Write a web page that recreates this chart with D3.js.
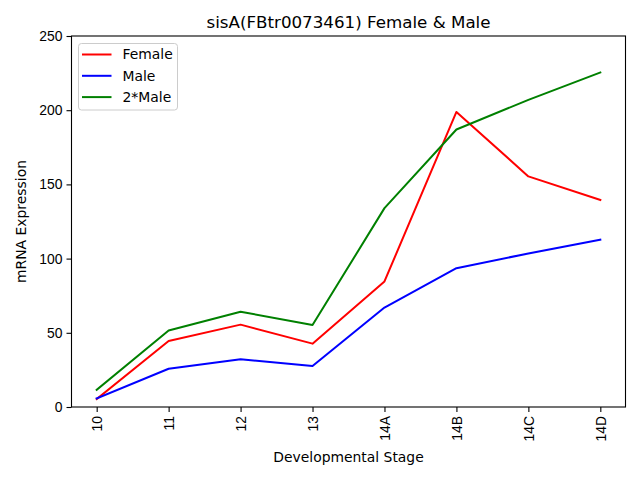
<!DOCTYPE html>
<html>
<head>
<meta charset="utf-8">
<script src="https://cdn.jsdelivr.net/npm/d3@7"></script>
<style>
  body { margin: 0; background: #fff; }
  svg { font-family: "DejaVu Sans", sans-serif; }
</style>
</head>
<body>
<div id="chart"></div>
<script>
// Chart data
const stages = ["10", "11", "12", "13", "14A", "14B", "14C", "14D"];
const female = [5.4, 44.5, 55.5, 42.7, 84.6, 198.8, 155.4, 139.5];
const male = [5.8, 25.8, 32.1, 27.6, 67.0, 93.5, 103.5, 112.7];
const male2 = [11.6, 51.6, 64.2, 55.2, 134.0, 187.0, 207.0, 225.4];
const yTicks = [0, 50, 100, 150, 200, 250];

const series = [
    { name: "Female", values: female, color: "#ff0000" },
    { name: "Male", values: male, color: "#0000ff" },
    { name: "2*Male", values: male2, color: "#008000" }
];

const width = 640, height = 480;
const margin = { left: 71.5, right: 14.5, top: 36, bottom: 73 };
const plotW = width - margin.left - margin.right;
const plotH = height - margin.top - margin.bottom;

const svg = d3.select("#chart").append("svg")
    .attr("width", width)
    .attr("height", height);

// matplotlib-style 5% margin on the category axis
const n = stages.length - 1;
const x = d3.scaleLinear()
    .domain([-0.05 * n, n + 0.05 * n])
    .range([margin.left, margin.left + plotW]);
const y = d3.scaleLinear()
    .domain([0, 250])
    .range([margin.top + plotH, margin.top]);

// Lines
const line = d3.line()
    .x((d, i) => x(i))
    .y(d => y(d));

svg.append("g").selectAll("path")
    .data(series)
    .enter()
    .append("path")
    .attr("d", d => line(d.values))
    .attr("fill", "none")
    .attr("stroke", d => d.color)
    .attr("stroke-width", 2)
    .attr("stroke-linejoin", "round")
    .attr("stroke-linecap", "square");

// Axes
const xAxis = svg.append("g")
    .attr("transform", `translate(0,${margin.top + plotH})`)
    .call(d3.axisBottom(x)
        .tickValues(d3.range(stages.length))
        .tickFormat(i => stages[i])
        .tickSize(5)
        .tickPadding(4));
xAxis.selectAll("text")
    .attr("transform", "rotate(-90)")
    .attr("text-anchor", "end")
    .attr("x", -9)
    .attr("y", 0)
    .attr("dy", "0.35em")
    .style("font-size", "13.9px")
    .style("fill", "#000");

const yAxis = svg.append("g")
    .attr("transform", `translate(${margin.left},0)`)
    .call(d3.axisLeft(y)
        .tickValues(yTicks)
        .tickSize(5)
        .tickPadding(4));
yAxis.selectAll("text")
    .style("font-size", "13.9px")
    .style("fill", "#000");

[xAxis, yAxis].forEach(a => {
    a.select(".domain").remove();
    a.selectAll(".tick line").attr("stroke", "#000").attr("stroke-width", 1.1);
});

// Frame
svg.append("rect")
    .attr("x", margin.left)
    .attr("y", margin.top)
    .attr("width", plotW)
    .attr("height", plotH)
    .attr("fill", "none")
    .attr("stroke", "#000")
    .attr("stroke-width", 1.1);

// Title and labels
svg.append("text")
    .attr("x", margin.left + plotW / 2)
    .attr("y", 28)
    .attr("text-anchor", "middle")
    .style("font-size", "16.7px")
    .text("sisA(FBtr0073461) Female & Male");

svg.append("text")
    .attr("x", margin.left + plotW / 2)
    .attr("y", 462)
    .attr("text-anchor", "middle")
    .style("font-size", "13.9px")
    .text("Developmental Stage");

svg.append("text")
    .attr("transform", `translate(26,${margin.top + plotH / 2}) rotate(-90)`)
    .attr("text-anchor", "middle")
    .style("font-size", "13.9px")
    .text("mRNA Expression");

// Legend
const legend = svg.append("g").attr("transform", "translate(78.5,43.5)");
legend.append("rect")
    .attr("width", 99)
    .attr("height", 66.5)
    .attr("rx", 3)
    .attr("fill", "#fff")
    .attr("fill-opacity", 0.8)
    .attr("stroke", "#cccccc")
    .attr("stroke-width", 1);

const items = legend.selectAll(".item")
    .data(series)
    .enter()
    .append("g")
    .attr("transform", (d, i) => `translate(0,${11 + i * 21.3})`);
items.append("line")
    .attr("x1", 3.5).attr("x2", 33)
    .attr("stroke", d => d.color)
    .attr("stroke-width", 2);
items.append("text")
    .attr("x", 44)
    .attr("dy", "0.35em")
    .style("font-size", "13.9px")
    .text(d => d.name);
</script>
</body>
</html>
